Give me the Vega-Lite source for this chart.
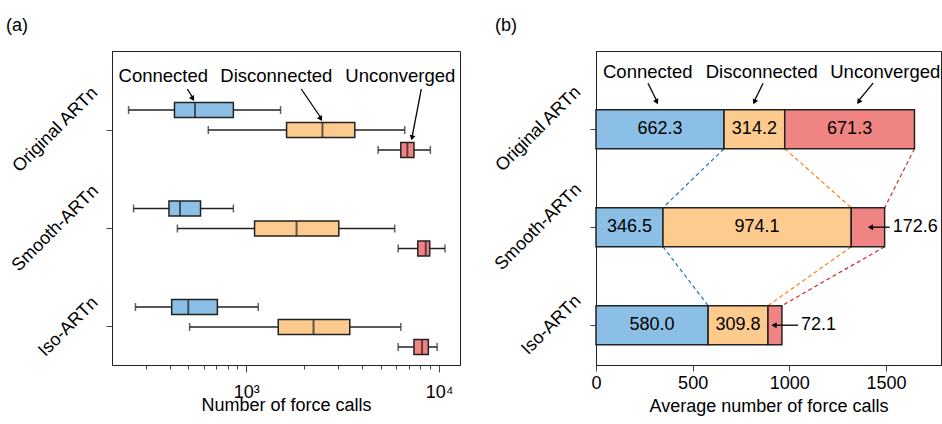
{
  "$schema": "https://vega.github.io/schema/vega-lite/v6.json",
  "padding": {"left": 5, "top": 16, "right": 0, "bottom": 0},
  "spacing": 29,
  "config": {
    "font": "Liberation Sans",
    "view": {"stroke": "#222", "strokeWidth": 1},
    "axis": {"labelFont": "Liberation Sans", "labelFontSize": 18, "labelColor": "#000", "titleFont": "Liberation Sans", "titleFontSize": 18, "titleFontWeight": "normal", "titleColor": "#000", "grid": false, "domainColor": "#222", "tickColor": "#444", "tickWidth": 1},
    "title": {"font": "Liberation Sans", "fontSize": 18, "fontWeight": "normal", "color": "#000"},
    "text": {"font": "Liberation Sans", "fontSize": 18, "color": "#000"}
  },
  "resolve": {"scale": {"x": "independent", "y": "independent", "fill": "independent"}},
  "datasets": {
    "boxes": [
      {"method": "Original ARTn", "category": "Connected", "low": 245, "q1": 424, "median": 542, "q3": 857, "high": 1506},
      {"method": "Original ARTn", "category": "Disconnected", "low": 635, "q1": 1618, "median": 2484, "q3": 3656, "high": 6637},
      {"method": "Original ARTn", "category": "Unconverged", "low": 4830, "q1": 6336, "median": 6850, "q3": 7413, "high": 9020},
      {"method": "Smooth-ARTn", "category": "Connected", "low": 260, "q1": 397, "median": 453, "q3": 579, "high": 857},
      {"method": "Smooth-ARTn", "category": "Disconnected", "low": 439, "q1": 1104, "median": 1823, "q3": 3020, "high": 5890},
      {"method": "Smooth-ARTn", "category": "Unconverged", "low": 6140, "q1": 7760, "median": 8535, "q3": 8950, "high": 10740},
      {"method": "Iso-ARTn", "category": "Connected", "low": 266, "q1": 410, "median": 500, "q3": 708, "high": 1154},
      {"method": "Iso-ARTn", "category": "Disconnected", "low": 508, "q1": 1465, "median": 2233, "q3": 3443, "high": 6336},
      {"method": "Iso-ARTn", "category": "Unconverged", "low": 6140, "q1": 7413, "median": 8164, "q3": 8802, "high": 9780}
    ],
    "avg": [
      {"method": "Original ARTn", "category": "Connected", "value": 662.3},
      {"method": "Original ARTn", "category": "Disconnected", "value": 314.2},
      {"method": "Original ARTn", "category": "Unconverged", "value": 671.3},
      {"method": "Smooth-ARTn", "category": "Connected", "value": 346.5},
      {"method": "Smooth-ARTn", "category": "Disconnected", "value": 974.1},
      {"method": "Smooth-ARTn", "category": "Unconverged", "value": 172.6},
      {"method": "Iso-ARTn", "category": "Connected", "value": 580.0},
      {"method": "Iso-ARTn", "category": "Disconnected", "value": 309.8},
      {"method": "Iso-ARTn", "category": "Unconverged", "value": 72.1}
    ],
    "links": [
      {"from": "Original ARTn", "to": "Smooth-ARTn", "category": "Connected", "start": 662.3, "end": 346.5},
      {"from": "Original ARTn", "to": "Smooth-ARTn", "category": "Disconnected", "start": 976.5, "end": 1320.6},
      {"from": "Original ARTn", "to": "Smooth-ARTn", "category": "Unconverged", "start": 1647.8, "end": 1493.2},
      {"from": "Smooth-ARTn", "to": "Iso-ARTn", "category": "Connected", "start": 346.5, "end": 580.0},
      {"from": "Smooth-ARTn", "to": "Iso-ARTn", "category": "Disconnected", "start": 1320.6, "end": 889.8},
      {"from": "Smooth-ARTn", "to": "Iso-ARTn", "category": "Unconverged", "start": 1493.2, "end": 961.9}
    ],
    "arrowsB": [
      {"name": "Connected", "label": 267.6, "tail": 269, "head": 312.6},
      {"name": "Disconnected", "label": 857.6, "tail": 864.4, "head": 821.4},
      {"name": "Unconverged", "label": 1496.6, "tail": 1433.7, "head": 1361.3}
    ],
    "sideB": [
      {"method": "Smooth-ARTn", "label": "172.6", "tail": 1519.7, "head": 1420.3},
      {"method": "Iso-ARTn", "label": "72.1", "tail": 1045.6, "head": 921.4}
    ]
  },
  "hconcat": [
    {
      "width": 348,
      "height": 314,
      "title": {"text": "(a)", "anchor": "start", "frame": "group", "dx": -106, "offset": 2, "baseline": "alphabetic"},
      "layer": [
        {
          "data": {"name": "boxes"},
          "encoding": {
            "y": {"field": "method", "type": "nominal", "title": null, "sort": ["Original ARTn", "Smooth-ARTn", "Iso-ARTn"],
                  "scale": {"paddingInner": 0.4, "paddingOuter": 0.294, "align": 0.854},
                  "axis": {"labelAngle": -45, "labelAlign": "center", "labelBaseline": "middle", "labelLimit": 0, "tickSize": 6,
                           "labelPadding": {"condition": {"test": "datum.value == 'Iso-ARTn'", "value": 38}, "value": 51}}},
            "yOffset": {"field": "category", "type": "nominal", "sort": ["Connected", "Disconnected", "Unconverged"],
                        "scale": {"paddingInner": 0.25, "paddingOuter": 0.1025}}
          },
          "layer": [
            {"mark": {"type": "rule", "color": "#222", "strokeWidth": 1.5},
             "encoding": {
               "x": {"field": "low", "type": "quantitative", "scale": {"type": "log", "domain": [201, 12850], "nice": false},
                     "axis": {"title": "Number of force calls",
                              "values": [300, 400, 500, 600, 700, 800, 900, 1000, 2000, 3000, 4000, 5000, 6000, 7000, 8000, 9000, 10000],
                              "labelExpr": "datum.value == 1000 ? '10³' : (datum.value == 10000 ? '10⁴' : '')",
                              "tickSize": {"condition": {"test": "datum.value == 1000 || datum.value == 10000", "value": 7}, "value": 4},
                              "labelBaseline": "alphabetic", "labelPadding": 25, "labelFlush": false, "labelOverlap": false,
                              "titleBaseline": "alphabetic", "titleY": 45}},
               "x2": {"field": "high"}
             }},
            {"mark": {"type": "tick", "color": "#222", "size": 8, "thickness": 1.5},
             "encoding": {"x": {"field": "low", "type": "quantitative"}}},
            {"mark": {"type": "tick", "color": "#222", "size": 8, "thickness": 1.5},
             "encoding": {"x": {"field": "high", "type": "quantitative"}}},
            {"mark": {"type": "bar", "stroke": "#222", "strokeWidth": 1.5},
             "encoding": {
               "x": {"field": "q1", "type": "quantitative"},
               "x2": {"field": "q3"},
               "fill": {"field": "category", "type": "nominal", "legend": null,
                        "scale": {"domain": ["Connected", "Disconnected", "Unconverged"], "range": ["#8bbfe5", "#fecb8e", "#f08482"]}}
             }},
            {"mark": {"type": "tick", "color": "#222", "size": 15, "thickness": 2},
             "encoding": {"x": {"field": "median", "type": "quantitative"}}}
          ]
        },
        {
          "data": {"values": [{"name": "Connected", "pos": 371}, {"name": "Disconnected", "pos": 1432}, {"name": "Unconverged", "pos": 6297}]},
          "mark": {"type": "text", "align": "center", "baseline": "alphabetic", "yOffset": -48, "fontSize": 18.5},
          "encoding": {"x": {"field": "pos", "type": "quantitative"}, "y": {"datum": "Original ARTn"}, "text": {"field": "name"}}
        },
        {
          "data": {"values": [{"tail": 494, "head": 525}]},
          "layer": [
            {"mark": {"type": "rule", "color": "#000", "strokeWidth": 1.3, "yOffset": -41, "y2Offset": -33},
             "encoding": {"x": {"field": "tail", "type": "quantitative"}, "x2": {"field": "head"}, "y": {"datum": "Original ARTn"}, "y2": {"datum": "Original ARTn"}}},
            {"mark": {"type": "point", "shape": "triangle", "filled": true, "color": "#000", "opacity": 1, "size": 35, "angle": 149, "yOffset": -32},
             "encoding": {"x": {"field": "head", "type": "quantitative"}, "y": {"datum": "Original ARTn"}}}
          ]
        },
        {
          "data": {"values": [{"tail": 1929, "head": 2421}]},
          "layer": [
            {"mark": {"type": "rule", "color": "#000", "strokeWidth": 1.3, "yOffset": -41, "y2Offset": -13},
             "encoding": {"x": {"field": "tail", "type": "quantitative"}, "x2": {"field": "head"}, "y": {"datum": "Original ARTn"}, "y2": {"datum": "Original ARTn"}}},
            {"mark": {"type": "point", "shape": "triangle", "filled": true, "color": "#000", "opacity": 1, "size": 35, "angle": 148, "yOffset": -12},
             "encoding": {"x": {"field": "head", "type": "quantitative"}, "y": {"datum": "Original ARTn"}}}
          ]
        },
        {
          "data": {"values": [{"tail": 8092, "head": 7263}]},
          "layer": [
            {"mark": {"type": "rule", "color": "#000", "strokeWidth": 1.3, "yOffset": -41, "y2Offset": 6},
             "encoding": {"x": {"field": "tail", "type": "quantitative"}, "x2": {"field": "head"}, "y": {"datum": "Original ARTn"}, "y2": {"datum": "Original ARTn"}}},
            {"mark": {"type": "point", "shape": "triangle", "filled": true, "color": "#000", "opacity": 1, "size": 35, "angle": 191, "yOffset": 7},
             "encoding": {"x": {"field": "head", "type": "quantitative"}, "y": {"datum": "Original ARTn"}}}
          ]
        }
      ]
    },
    {
      "width": 345,
      "height": 314,
      "title": {"text": "(b)", "anchor": "start", "frame": "group", "dx": -101, "offset": 2, "baseline": "alphabetic"},
      "layer": [
        {
          "data": {"name": "links"},
          "mark": {"type": "rule", "strokeDash": [4, 3], "strokeWidth": 1.2},
          "encoding": {
            "x": {"field": "start", "type": "quantitative", "scale": {"domain": [0, 1785], "nice": false},
                  "axis": {"title": "Average number of force calls", "values": [0, 500, 1000, 1500], "format": "d", "tickSize": 6,
                           "labelBaseline": "alphabetic", "labelPadding": 17, "labelFlush": false,
                           "titleBaseline": "alphabetic", "titleY": 46}},
            "x2": {"field": "end"},
            "y": {"field": "from", "type": "nominal", "title": null, "bandPosition": 1, "sort": ["Original ARTn", "Smooth-ARTn", "Iso-ARTn"],
                  "scale": {"domain": ["Original ARTn", "Smooth-ARTn", "Iso-ARTn"], "paddingInner": 0.602, "paddingOuter": 0.403, "align": 0.743},
                  "axis": {"labelAngle": -45, "labelAlign": "center", "labelBaseline": "middle", "labelLimit": 0, "tickSize": 6,
                           "labelPadding": {"condition": {"test": "datum.value == 'Iso-ARTn'", "value": 39}, "value": 52}}},
            "y2": {"field": "to", "bandPosition": 0},
            "stroke": {"field": "category", "type": "nominal", "legend": null,
                       "scale": {"domain": ["Connected", "Disconnected", "Unconverged"], "range": ["#1f77b4", "#ff7f0e", "#d62728"]}}
          }
        },
        {
          "data": {"name": "avg"},
          "transform": [
            {"stack": "value", "groupby": ["method"], "sort": [{"field": "category", "order": "ascending"}], "as": ["v0", "v1"]}
          ],
          "mark": {"type": "bar", "stroke": "#222", "strokeWidth": 1.5},
          "encoding": {
            "x": {"field": "v0", "type": "quantitative"},
            "x2": {"field": "v1"},
            "y": {"field": "method", "type": "nominal", "title": null, "sort": ["Original ARTn", "Smooth-ARTn", "Iso-ARTn"]},
            "fill": {"field": "category", "type": "nominal", "legend": null,
                     "scale": {"domain": ["Connected", "Disconnected", "Unconverged"], "range": ["#8bbfe5", "#fecb8e", "#f08482"]}}
          }
        },
        {
          "data": {"name": "avg"},
          "transform": [
            {"stack": "value", "groupby": ["method"], "sort": [{"field": "category", "order": "ascending"}], "as": ["v0", "v1"]},
            {"calculate": "(datum.v0 + datum.v1) / 2", "as": "mid"},
            {"filter": "datum.value > 200"}
          ],
          "mark": {"type": "text", "align": "center", "baseline": "middle"},
          "encoding": {
            "x": {"field": "mid", "type": "quantitative"},
            "y": {"field": "method", "type": "nominal", "title": null, "sort": ["Original ARTn", "Smooth-ARTn", "Iso-ARTn"]},
            "text": {"field": "value", "type": "quantitative", "format": ".1f"}
          }
        },
        {
          "data": {"name": "sideB"},
          "layer": [
            {"mark": {"type": "rule", "color": "#000", "strokeWidth": 1.3},
             "encoding": {"x": {"field": "tail", "type": "quantitative"}, "x2": {"field": "head"},
                          "y": {"field": "method", "type": "nominal", "title": null, "sort": ["Original ARTn", "Smooth-ARTn", "Iso-ARTn"]}}},
            {"mark": {"type": "point", "shape": "triangle-left", "filled": true, "color": "#000", "opacity": 1, "size": 35},
             "encoding": {"x": {"field": "head", "type": "quantitative"},
                          "y": {"field": "method", "type": "nominal", "title": null, "sort": ["Original ARTn", "Smooth-ARTn", "Iso-ARTn"]}}},
            {"mark": {"type": "text", "align": "left", "baseline": "middle", "dx": 3},
             "encoding": {"x": {"field": "tail", "type": "quantitative"},
                          "y": {"field": "method", "type": "nominal", "title": null, "sort": ["Original ARTn", "Smooth-ARTn", "Iso-ARTn"]},
                          "text": {"field": "label"}}}
          ]
        },
        {
          "data": {"name": "arrowsB"},
          "layer": [
            {"mark": {"type": "text", "align": "center", "baseline": "alphabetic", "yOffset": -51, "fontSize": 18.5},
             "encoding": {"x": {"field": "label", "type": "quantitative"}, "y": {"datum": "Original ARTn"}, "text": {"field": "name"}}},
            {"mark": {"type": "rule", "color": "#000", "strokeWidth": 1.3, "yOffset": -46, "y2Offset": -29},
             "encoding": {"x": {"field": "tail", "type": "quantitative"}, "x2": {"field": "head"}, "y": {"datum": "Original ARTn"}, "y2": {"datum": "Original ARTn"}}},
            {"transform": [{"filter": "datum.name == 'Connected'"}],
             "mark": {"type": "point", "shape": "triangle", "filled": true, "color": "#000", "opacity": 1, "size": 35, "angle": 153, "yOffset": -28},
             "encoding": {"x": {"field": "head", "type": "quantitative"}, "y": {"datum": "Original ARTn"}}},
            {"transform": [{"filter": "datum.name == 'Disconnected'"}],
             "mark": {"type": "point", "shape": "triangle", "filled": true, "color": "#000", "opacity": 1, "size": 35, "angle": 204, "yOffset": -28},
             "encoding": {"x": {"field": "head", "type": "quantitative"}, "y": {"datum": "Original ARTn"}}},
            {"transform": [{"filter": "datum.name == 'Unconverged'"}],
             "mark": {"type": "point", "shape": "triangle", "filled": true, "color": "#000", "opacity": 1, "size": 35, "angle": 217, "yOffset": -28},
             "encoding": {"x": {"field": "head", "type": "quantitative"}, "y": {"datum": "Original ARTn"}}}
          ]
        }
      ]
    }
  ]
}
